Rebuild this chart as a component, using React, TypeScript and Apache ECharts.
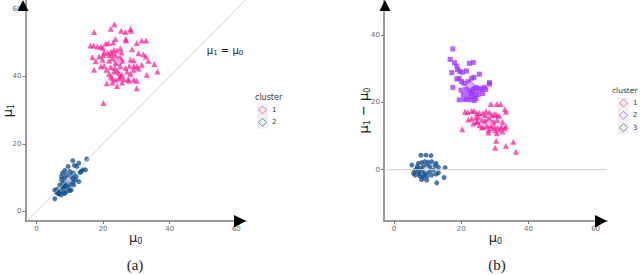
import React, { useEffect, useRef } from "react";
import * as echarts from "echarts";

// Panel (a): mu0 vs mu1
const aCluster1: number[][] = [
  [17.3, 53.2], [23.4, 55.5], [22.3, 54.2], [25.4, 53.6], [26.7, 53.2], [28.2, 54.1], [28.4, 53.6],
  [23.7, 51.1], [26.8, 51.1], [26.9, 50.7], [16.2, 49.2], [17.1, 49.2], [18.3, 48.9], [19.3, 48.8],
  [19.9, 48.5], [20.8, 49.8], [21.6, 49.9], [23.0, 50.1], [20.3, 47.1], [21.3, 47.1], [22.3, 47.4],
  [23.3, 47.9], [24.2, 47.7], [25.2, 48.4], [25.5, 47.1], [28.7, 48.1], [30.1, 49.9], [31.6, 50.7],
  [32.9, 50.7], [16.8, 45.7], [18.8, 45.9], [20.0, 46.4], [21.8, 46.4], [22.8, 46.9], [23.7, 46.4],
  [25.2, 45.4], [17.8, 44.5], [19.8, 45.0], [21.8, 44.7], [22.8, 45.4], [23.7, 44.0], [24.7, 45.0],
  [25.7, 44.7], [28.2, 45.0], [29.2, 44.8], [30.6, 46.9], [32.1, 46.6], [32.8, 45.9], [33.6, 44.7],
  [17.3, 42.0], [19.3, 43.0], [20.3, 43.2], [21.0, 42.0], [22.3, 42.8], [23.5, 42.5], [24.2, 41.8],
  [25.2, 43.0], [26.7, 42.5], [27.9, 43.2], [29.2, 43.0], [30.1, 43.0], [30.6, 42.4], [31.6, 43.5],
  [35.4, 43.7], [36.3, 41.5], [21.8, 40.8], [23.3, 41.5], [24.7, 41.0], [25.7, 40.5], [27.2, 41.5],
  [28.2, 40.8], [29.2, 42.0], [33.1, 40.5], [22.3, 40.0], [22.8, 39.5], [23.7, 39.0], [24.7, 39.5],
  [25.2, 40.0], [26.2, 39.2], [27.5, 39.2], [29.2, 39.0], [30.1, 38.7], [21.1, 38.0], [22.8, 38.2],
  [24.2, 37.2], [25.7, 38.2], [27.7, 38.7], [30.1, 36.5], [20.1, 32.1],
];
const aCluster2: number[][] = [
  [15.1, 15.5], [10.9, 15.0], [12.7, 14.3], [9.5, 13.3], [11.4, 13.6], [12.1, 13.3], [13.9, 12.3],
  [14.7, 12.3], [8.5, 12.1], [10.0, 11.8], [11.1, 11.3], [13.4, 11.8], [7.8, 11.3], [9.0, 10.8],
  [10.4, 10.5], [11.9, 10.3], [13.1, 11.5], [7.5, 9.3], [8.5, 9.8], [9.5, 8.8], [10.9, 9.8],
  [12.7, 8.8], [8.0, 8.3], [9.0, 8.5], [10.0, 7.8], [7.0, 7.8], [7.8, 7.3], [8.5, 7.3], [9.5, 6.8],
  [10.4, 6.3], [6.3, 6.5], [7.2, 5.8], [8.2, 5.5], [9.0, 5.8], [10.0, 6.1], [5.5, 6.3], [6.0, 5.5],
  [6.8, 5.1], [7.5, 4.9], [8.5, 5.3], [5.5, 3.7], [11.2, 7.8], [10.9, 8.5], [11.7, 9.3], [7.5, 10.3],
  [6.5, 5.3], [8.0, 6.8], [8.8, 7.8],
];
const aCentroids1: number[][] = [[24.7, 44.5]];
const aCentroids2: number[][] = [[9.5, 9.0]];
const diagLine: number[][] = [[-3.3, -3.3], [63, 63]];

// Panel (b): mu0 vs mu1 - mu0
const bCluster1: number[][] = [
  [28.8, 19.5], [30.6, 19.5], [31.7, 19.5], [33.0, 17.9], [33.3, 17.2], [21.1, 17.2], [21.9, 17.0],
  [23.1, 17.4], [23.8, 17.5], [24.6, 16.7], [25.4, 16.9], [26.4, 16.7], [27.4, 17.4], [28.4, 17.0],
  [29.1, 16.2], [29.9, 16.5], [30.6, 16.2], [31.3, 16.0], [20.3, 12.0], [22.1, 14.9], [23.1, 15.2],
  [24.4, 15.5], [24.8, 14.2], [26.1, 14.7], [27.1, 14.5], [28.1, 15.2], [28.8, 14.5], [29.6, 14.2],
  [30.6, 14.7], [32.3, 14.2], [23.6, 13.7], [25.4, 13.2], [26.6, 12.7], [27.6, 12.9], [28.6, 13.2],
  [29.8, 12.9], [30.8, 12.5], [32.0, 12.7], [33.3, 12.9], [26.1, 12.5], [28.1, 11.8], [29.1, 12.3],
  [30.1, 11.6], [31.5, 12.0], [33.0, 12.3], [28.1, 11.0], [30.6, 10.8], [32.3, 11.3], [30.4, 8.6],
  [33.3, 7.1], [30.1, 6.5], [35.5, 8.3], [36.3, 5.3], [24.6, 14.2], [27.1, 16.2], [25.1, 15.7],
];
const bCluster2: number[][] = [
  [17.5, 35.8], [16.7, 32.7], [18.0, 31.7], [18.7, 30.7], [18.9, 29.7], [19.6, 29.1], [17.2, 28.8],
  [20.4, 28.9], [21.6, 29.3], [23.6, 31.8], [22.4, 31.5], [25.4, 28.3], [19.4, 27.1], [18.7, 26.9],
  [23.1, 27.1], [23.8, 27.4], [17.5, 24.4], [20.1, 26.1], [20.8, 25.6], [22.1, 26.1], [22.6, 24.8],
  [23.4, 24.1], [24.4, 24.4], [25.4, 24.1], [26.9, 24.4], [28.4, 25.8], [28.4, 25.4], [19.9, 23.6],
  [21.4, 23.8], [22.6, 23.6], [23.4, 23.1], [24.6, 23.6], [26.1, 23.8], [27.3, 23.8], [20.6, 22.3],
  [22.1, 22.3], [23.1, 22.6], [24.1, 22.1], [25.1, 22.3], [26.4, 22.6], [21.6, 20.9], [23.1, 21.6],
  [24.4, 21.1], [20.8, 20.8], [22.6, 20.7], [23.9, 20.5], [19.4, 20.7],
];
const bCluster3: number[][] = [
  [8.0, 4.3], [9.5, 4.3], [11.0, 4.2], [5.3, 1.4], [7.2, 1.9], [8.2, 2.1], [9.2, 2.4], [10.2, 2.2],
  [11.2, 2.4], [12.5, 1.9], [6.9, 0.9], [7.7, 0.4], [8.7, 0.9], [9.7, 1.1], [10.7, 0.9], [12.2, 1.2],
  [13.2, 0.7], [15.2, 0.6], [6.1, -0.3], [7.2, -0.6], [8.2, -0.3], [9.2, -0.9], [10.5, -0.6],
  [11.7, -0.1], [13.2, -0.9], [6.3, -1.6], [7.7, -1.9], [8.7, -2.3], [9.9, -1.9], [11.2, -1.6],
  [12.5, -1.3], [14.9, -2.3], [8.2, -2.9], [9.7, -3.1], [12.7, -3.9], [5.8, -1.1], [7.5, -1.3],
  [8.9, -1.6], [6.7, 0.2],
];
const bCentroids1: number[][] = [[28.4, 13.8]];
const bCentroids2: number[][] = [[22.6, 25.0]];
const bCentroids3: number[][] = [[9.6, 0.2]];
const zeroLine: number[][] = [[-3, 0], [63.4, 0]];

const xTicks = [0, 20, 40, 60];
const yTicksA = [0, 20, 40, 60];
const yTicksB = [0, 20, 40];
const legendA = ["1", "2"];
const legendB = ["1", "2", "3"];

const PINK = "#ff1493";
const BLUE = "#104e8b";
const PURPLE = "#9b30ff";
const AXIS = "#7a7a7a";
const REF = "#cfcfcf";

const subRich = {
  m: { fontSize: 13, lineHeight: 16, fontFamily: "DejaVu Sans", color: "#1a1a1a" },
  s: { fontSize: 8, lineHeight: 9, verticalAlign: "bottom", fontFamily: "DejaVu Sans", color: "#1a1a1a" },
};

function axisCommon(ticks: number[]) {
  return {
    nameMoveOverlap: false,
    axisLine: { show: true, onZero: false, lineStyle: { color: AXIS, width: 1.5 } },
    axisTick: { show: true, length: 3, lineStyle: { color: AXIS }, customValues: ticks },
    axisLabel: { color: "#6b6b6b", fontSize: 7, fontFamily: "DejaVu Sans", customValues: ticks, margin: 4 },
    splitLine: { show: false },
  };
}

function legendGraphic(x: number, y: number, labels: string[], colors: string[], titleX: number, titleSize: number) {
  const children: any[] = [
    { type: "text", x: titleX, y: y - 7, style: { text: "cluster", fontSize: titleSize, fill: "#333", fontFamily: "DejaVu Sans", textVerticalAlign: "middle" } },
    { type: "rect", shape: { x: x, y: y, width: 11, height: labels.length * 12.3 }, style: { fill: "#f0f0f0" } },
  ];
  labels.forEach((lab, i) => {
    const cx = x + 5.5;
    const cy = y + 6 + i * 12.3;
    children.push({
      type: "polygon",
      shape: { points: [[cx, cy - 4], [cx + 4, cy], [cx, cy + 4], [cx - 4, cy]] },
      style: { fill: "none", stroke: colors[i], lineWidth: 1, opacity: 0.6 },
    });
    children.push({
      type: "text",
      x: x + 15,
      y: cy,
      style: { text: lab, fontSize: 7, fill: "#333", fontFamily: "DejaVu Sans", textVerticalAlign: "middle" },
    });
  });
  return { type: "group", children };
}

export default function App() {
  const ref = useRef<HTMLDivElement>(null);
  useEffect(() => {
    if (!ref.current) return;
    const chart = echarts.init(ref.current, undefined, { renderer: "svg" });
    const option: any = {
      animation: false,
      backgroundColor: "#ffffff",
      grid: [
        { left: 22, top: 0, width: 224, height: 221 },
        { left: 384, top: 0, width: 223, height: 221 },
      ],
      xAxis: [
        {
          gridIndex: 0, type: "value", min: -3.3, max: 62.9,
          name: "{m|μ}{s|0}", nameLocation: "middle", nameGap: 8,
          nameTextStyle: { rich: subRich },
          ...axisCommon(xTicks),
        },
        {
          gridIndex: 1, type: "value", min: -3, max: 63.4,
          name: "{m|μ}{s|0}", nameLocation: "middle", nameGap: 8,
          nameTextStyle: { rich: subRich },
          ...axisCommon(xTicks),
        },
      ],
      yAxis: [
        {
          gridIndex: 0, type: "value", min: -2.9, max: 62.7,
          name: "{m|μ}{s|1}", nameLocation: "middle", nameGap: 10,
          nameTextStyle: { rich: subRich },
          ...axisCommon(yTicksA),
        },
        {
          gridIndex: 1, type: "value", min: -15.2, max: 50.3,
          name: "{m|μ}{s|1}{m| − μ}{s|0}", nameLocation: "middle", nameGap: 13,
          nameTextStyle: { rich: subRich },
          ...axisCommon(yTicksB),
        },
      ],
      series: [
        { type: "line", xAxisIndex: 0, yAxisIndex: 0, data: diagLine, symbol: "none", lineStyle: { color: REF, width: 1 }, silent: true },
        { type: "line", xAxisIndex: 1, yAxisIndex: 1, data: zeroLine, symbol: "none", lineStyle: { color: REF, width: 1 }, silent: true },
        { type: "scatter", xAxisIndex: 0, yAxisIndex: 0, data: aCluster1, symbol: "triangle", symbolSize: 6, itemStyle: { color: PINK, opacity: 0.7 } },
        { type: "scatter", xAxisIndex: 0, yAxisIndex: 0, data: aCluster2, symbol: "circle", symbolSize: 5, itemStyle: { color: BLUE, opacity: 0.75 } },
        { type: "scatter", xAxisIndex: 0, yAxisIndex: 0, data: aCentroids1, symbol: "emptyDiamond", symbolSize: 9, itemStyle: { color: PINK, opacity: 0.5, borderWidth: 1 } },
        { type: "scatter", xAxisIndex: 0, yAxisIndex: 0, data: aCentroids2, symbol: "emptyDiamond", symbolSize: 9, itemStyle: { color: BLUE, opacity: 0.5, borderWidth: 1 } },
        { type: "scatter", xAxisIndex: 1, yAxisIndex: 1, data: bCluster1, symbol: "triangle", symbolSize: 6, itemStyle: { color: PINK, opacity: 0.7 } },
        { type: "scatter", xAxisIndex: 1, yAxisIndex: 1, data: bCluster2, symbol: "rect", symbolSize: 5, itemStyle: { color: PURPLE, opacity: 0.75 } },
        { type: "scatter", xAxisIndex: 1, yAxisIndex: 1, data: bCluster3, symbol: "circle", symbolSize: 5, itemStyle: { color: BLUE, opacity: 0.75 } },
        { type: "scatter", xAxisIndex: 1, yAxisIndex: 1, data: bCentroids1, symbol: "emptyDiamond", symbolSize: 9, itemStyle: { color: PINK, opacity: 0.5, borderWidth: 1 } },
        { type: "scatter", xAxisIndex: 1, yAxisIndex: 1, data: bCentroids2, symbol: "emptyDiamond", symbolSize: 9, itemStyle: { color: PURPLE, opacity: 0.5, borderWidth: 1 } },
        { type: "scatter", xAxisIndex: 1, yAxisIndex: 1, data: bCentroids3, symbol: "emptyDiamond", symbolSize: 9, itemStyle: { color: BLUE, opacity: 0.5, borderWidth: 1 } },
      ],
      graphic: [
        // axis arrows
        { type: "polygon", z: 100, shape: { points: [[23, 0], [17.5, 11], [28.5, 11]] }, style: { fill: "#000" } },
        { type: "polygon", z: 100, shape: { points: [[246, 221], [234, 215], [234, 227.5]] }, style: { fill: "#000" } },
        { type: "polygon", z: 100, shape: { points: [[385, 0], [379.5, 11], [390.5, 11]] }, style: { fill: "#000" } },
        { type: "polygon", z: 100, shape: { points: [[607, 221], [595, 215], [595, 227.5]] }, style: { fill: "#000" } },
        // annotation
        {
          type: "text", z: 100, x: 225, y: 50,
          style: {
            text: "{m|μ}{s|1}{m| = μ}{s|0}",
            textAlign: "center", textVerticalAlign: "middle",
            rich: {
              m: { fontSize: 10, lineHeight: 12, fontFamily: "DejaVu Sans", fill: "#1a1a1a" },
              s: { fontSize: 7, lineHeight: 7, verticalAlign: "bottom", fontFamily: "DejaVu Sans", fill: "#1a1a1a" },
            },
          },
        },
        legendGraphic(257, 104, legendA, [PINK, BLUE], 255, 8),
        legendGraphic(618, 97, legendB, [PINK, PURPLE, BLUE], 612, 7.5),
        // captions
        { type: "text", x: 135, y: 265, style: { text: "(a)", fontSize: 15, fontFamily: "Liberation Serif", fill: "#222", textAlign: "center", textVerticalAlign: "middle" } },
        { type: "text", x: 497, y: 265, style: { text: "(b)", fontSize: 15, fontFamily: "Liberation Serif", fill: "#222", textAlign: "center", textVerticalAlign: "middle" } },
      ],
    };
    chart.setOption(option);
    return () => chart.dispose();
  }, []);
  return (
    <div
      ref={ref}
      style={{ position: "absolute", left: 0, top: 0, width: 640, height: 275, background: "#fff" }}
    />
  );
}
